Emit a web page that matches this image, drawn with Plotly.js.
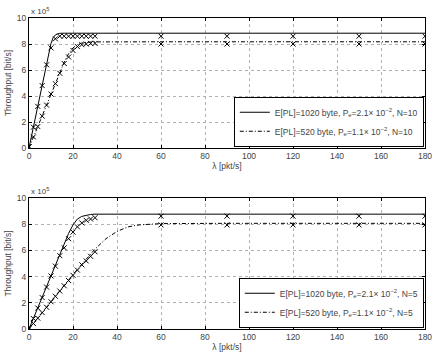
<!DOCTYPE html>
<html>
<head>
<meta charset="utf-8">
<script src="https://cdn.plot.ly/plotly-3.0.1.min.js"></script>
<style>
  html, body { margin: 0; padding: 0; background: #fff; }
  #chart { width: 436px; height: 356px; }
</style>
</head>
<body>
<div id="chart"></div>
<script>
// simulated points (x markers), throughput in units of 1e5 bit/s
const lamSim = [0, 2, 4, 6, 8, 10, 12, 14, 16, 18, 20, 22, 24, 26, 28, 30, 60, 90, 120, 150, 180];
const top1020Sim = [0.1, 1.6, 3.2, 4.8, 6.4, 7.7, 8.4, 8.6, 8.6, 8.6, 8.6, 8.6, 8.6, 8.6, 8.6, 8.6, 8.6, 8.6, 8.6, 8.6, 8.6];
const top520Sim = [0.1, 0.85, 1.65, 2.45, 3.3, 4.15, 4.95, 5.75, 6.5, 7.0, 7.5, 7.8, 7.95, 8.0, 8.05, 8.05, 8.0, 8.0, 8.0, 8.0, 8.0];
const bot1020Sim = [0.1, 0.8, 1.6, 2.4, 3.2, 4.05, 4.8, 5.6, 6.2, 6.9, 7.4, 7.8, 8.1, 8.3, 8.4, 8.5, 8.62, 8.62, 8.62, 8.62, 8.62];
const bot520Sim = [0.1, 0.42, 0.83, 1.25, 1.66, 2.08, 2.5, 2.9, 3.3, 3.7, 4.1, 4.5, 4.9, 5.2, 5.55, 5.9, 7.95, 7.95, 7.95, 7.95, 7.95];

// analytical curves
const topLam1020 = [0, 2, 4, 6, 8, 10, 11, 12, 13, 14, 16, 20, 30, 60, 180];
const topThr1020 = [0, 1.63, 3.26, 4.9, 6.5, 8.05, 8.5, 8.7, 8.78, 8.82, 8.83, 8.83, 8.83, 8.83, 8.83];
const topLam520 = [0, 4, 8, 12, 16, 18, 20, 22, 24, 26, 30, 60, 180];
const topThr520 = [0, 1.66, 3.33, 5.0, 6.6, 7.25, 7.7, 7.95, 8.08, 8.13, 8.16, 8.17, 8.17];
const botLam1020 = [0, 5, 10, 15, 18, 20, 22, 24, 26, 28, 30, 40, 180];
const botThr1020 = [0, 2.04, 4.08, 6.1, 7.3, 7.95, 8.4, 8.6, 8.7, 8.75, 8.77, 8.77, 8.77];
const botLam520 = [0, 10, 20, 30, 35, 40, 45, 50, 55, 60, 90, 180];
const botThr520 = [0, 2.08, 4.16, 6.1, 6.9, 7.45, 7.8, 7.95, 8.02, 8.05, 8.07, 8.07];

const names = [
  'E[PL]=1020 byte, P<sub>e</sub>=2.1× 10<sup>−2</sup>, N=10',
  'E[PL]=520 byte, P<sub>e</sub>=1.1× 10<sup>−2</sup>, N=10',
  'E[PL]=1020 byte, P<sub>e</sub>=2.1× 10<sup>−2</sup>, N=5',
  'E[PL]=520 byte, P<sub>e</sub>=1.1× 10<sup>−2</sup>, N=5'
];

const FONT = 'Liberation Sans, Arial, sans-serif';
const DASHDOT = '4px,2px,1px,2px';

function curve(x, y, name, dash, xa, ya, leg) {
  return {
    x: x, y: y, name: name, mode: 'lines', xaxis: xa, yaxis: ya, legend: leg,
    line: { color: '#000', width: 1, dash: dash }
  };
}
function marks(x, y, xa, ya) {
  return {
    x: x, y: y, mode: 'markers', xaxis: xa, yaxis: ya, showlegend: false,
    marker: { symbol: 'x-thin-open', size: 5, color: '#000', line: { width: 1, color: '#000' } }
  };
}

const data = [
  curve(topLam1020, topThr1020, names[0], 'solid', 'x', 'y', 'legend'),
  curve(topLam520, topThr520, names[1], DASHDOT, 'x', 'y', 'legend'),
  marks(lamSim, top1020Sim, 'x', 'y'),
  marks(lamSim, top520Sim, 'x', 'y'),
  curve(botLam1020, botThr1020, names[2], 'solid', 'x2', 'y2', 'legend2'),
  curve(botLam520, botThr520, names[3], DASHDOT, 'x2', 'y2', 'legend2'),
  marks(lamSim, bot1020Sim, 'x2', 'y2'),
  marks(lamSim, bot520Sim, 'x2', 'y2')
];

function xax(anchor) {
  return {
    anchor: anchor, range: [0, 180], dtick: 20, tick0: 0,
    showline: true, linecolor: '#000', linewidth: 1, mirror: 'ticks',
    ticks: 'inside', ticklen: 3, tickcolor: '#000',
    showgrid: true, gridcolor: '#b0b0b0', griddash: 'dot', gridwidth: 1,
    zeroline: false, tickfont: { size: 8.5, family: FONT },
    title: { text: 'λ [pkt/s]', font: { size: 8.5, family: FONT }, standoff: 2 }
  };
}
function yax(anchor, dom) {
  return {
    anchor: anchor, domain: dom, range: [0, 10], dtick: 2,
    showline: true, linecolor: '#000', linewidth: 1, mirror: 'ticks',
    ticks: 'inside', ticklen: 3, tickcolor: '#000',
    showgrid: true, gridcolor: '#b0b0b0', griddash: 'dot', gridwidth: 1,
    zeroline: false, tickfont: { size: 8.5, family: FONT },
    title: { text: 'Throughput [bit/s]', font: { size: 8.5, family: FONT }, standoff: 3 }
  };
}

const legendStyle = {
  xanchor: 'right', yanchor: 'bottom', x: 0.997,
  bgcolor: '#fff', bordercolor: '#000', borderwidth: 1,
  font: { size: 8.5, family: FONT }, tracegroupgap: 0, itemwidth: 30
};

const layout = {
  width: 436, height: 356,
  margin: { l: 29, r: 11, t: 18, b: 27 },
  paper_bgcolor: '#fff', plot_bgcolor: '#fff',
  showlegend: true,
  xaxis: xax('y'),
  yaxis: yax('x', [0.582, 1]),
  xaxis2: xax('y2'),
  yaxis2: yax('x2', [0, 0.421]),
  legend: Object.assign({}, legendStyle, { y: 0.586 }),
  legend2: Object.assign({}, legendStyle, { y: 0.004 }),
  annotations: [
    { text: 'x 10<sup>5</sup>', xref: 'paper', yref: 'paper', x: 0, y: 1.0, xanchor: 'left', yanchor: 'bottom',
      showarrow: false, font: { size: 8, family: FONT } },
    { text: 'x 10<sup>5</sup>', xref: 'paper', yref: 'paper', x: 0, y: 0.421, xanchor: 'left', yanchor: 'bottom',
      showarrow: false, font: { size: 8, family: FONT } }
  ]
};

Plotly.newPlot('chart', data, layout, { staticPlot: true, displayModeBar: false });
</script>
</body>
</html>
